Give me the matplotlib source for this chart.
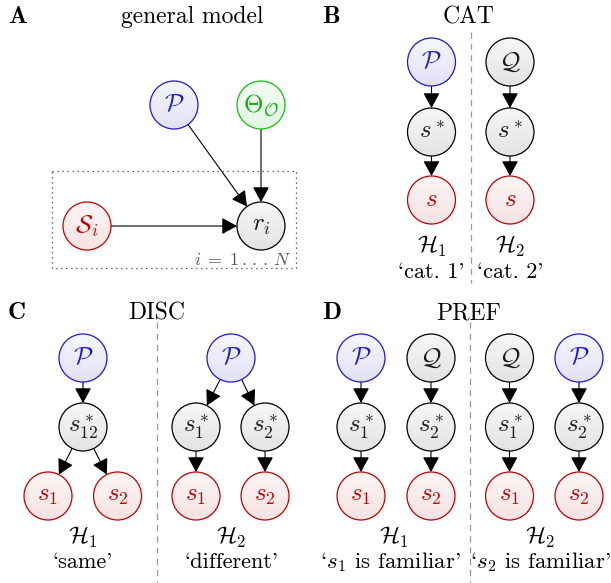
import matplotlib
matplotlib.use("Agg")
import matplotlib.pyplot as plt
from matplotlib.patches import Circle, FancyArrowPatch, Rectangle
from matplotlib.colors import to_rgb
import numpy as np

plt.rcParams['mathtext.fontset'] = 'cm'
plt.rcParams['font.family'] = 'cmr10'

# panel titles
panel_letters = ["A", "B", "C", "D"]
panel_titles = ["general model", "CAT", "DISC", "PREF"]

# node labels and kinds (kind picks the colour)
a_nodes = {"P": (r"$\mathcal{P}$", "blue"), "T": (r"$\Theta_\mathcal{O}$", "green"),
           "S": (r"$\mathcal{S}_i$", "red"), "r": (r"$r_i$", "gray")}
a_edges = [("P", "r"), ("T", "r"), ("S", "r")]
plate_label = r"$i\;=\;1\,.\,.\,.\,N$"

cat_columns = [[(r"$\mathcal{P}$", "blue"), (r"$s^*$", "gray"), (r"$s$", "red")],
               [(r"$\mathcal{Q}$", "gray"), (r"$s^*$", "gray"), (r"$s$", "red")]]
cat_hyp = [r"$\mathcal{H}_1$", r"$\mathcal{H}_2$"]
cat_desc = ["`cat. 1'", "`cat. 2'"]

pref_columns = [[(r"$\mathcal{P}$", "blue"), (r"$s^*_1$", "gray"), (r"$s_1$", "red")],
                [(r"$\mathcal{Q}$", "gray"), (r"$s^*_2$", "gray"), (r"$s_2$", "red")],
                [(r"$\mathcal{Q}$", "gray"), (r"$s^*_1$", "gray"), (r"$s_1$", "red")],
                [(r"$\mathcal{P}$", "blue"), (r"$s^*_2$", "gray"), (r"$s_2$", "red")]]
pref_hyp = [r"$\mathcal{H}_1$", r"$\mathcal{H}_2$"]
pref_desc = ["`$s_1$ is familiar'", "`$s_2$ is familiar'"]

disc_hyp = [r"$\mathcal{H}_1$", r"$\mathcal{H}_2$"]
disc_desc = ["`same'", "`different'"]

edge_col = {"blue": "#1c1cc8", "red": "#c40000", "green": "#10c010", "gray": "#000000"}
fill_top = {"blue": "#f6f6fd", "red": "#fdf6f6", "green": "#f6fdf6", "gray": "#f7f7f7"}
fill_bot = {"blue": "#e2e2f6", "red": "#f6e2e2", "green": "#e2f6e2", "gray": "#e3e3e3"}
text_col = {"blue": "#1c1cc8", "red": "#c40000", "green": "#10b010", "gray": "#1a1a1a"}

R = 24
FS = 16
NFS = 18

fig = plt.figure(figsize=(6.11, 5.83), dpi=100)
ax = fig.add_axes([0, 0, 1, 1])
ax.set_xlim(0, 611)
ax.set_ylim(583, 0)
ax.axis("off")


def node(x, y, label, kind):
    c = Circle((x, y), R, facecolor="none", edgecolor=edge_col[kind], lw=0.9, zorder=3)
    ax.add_patch(c)
    top, bot = np.array(to_rgb(fill_top[kind])), np.array(to_rgb(fill_bot[kind]))
    t = np.linspace(0, 1, 40)[:, None]
    grad = (top * (1 - t) + bot * t)[:, None, :]
    im = ax.imshow(grad, extent=(x - R, x + R, y + R, y - R), zorder=2,
                   interpolation="bilinear", aspect="auto")
    im.set_clip_path(c)
    ax.text(x, y, label, ha="center", va="center", fontsize=NFS, color=text_col[kind], zorder=4)
    return (x, y)


def arrow(p, q):
    d = np.array(q) - np.array(p)
    u = d / np.hypot(*d)
    a = np.array(p) + u * R
    b = np.array(q) - u * R
    ax.add_patch(FancyArrowPatch(a, b, arrowstyle="-|>,head_length=0.55,head_width=0.3",
                                 mutation_scale=17, lw=0.8, color="black",
                                 shrinkA=0, shrinkB=0, zorder=1))


def heading(x_letter, x_title, y, i):
    ax.text(x_letter, y, panel_letters[i], family="cmb10", fontsize=18, ha="left", va="center")
    ax.text(x_title, y, panel_titles[i], fontsize=FS + 1, ha="center", va="center")


def divider(x, y0, y1):
    ax.plot([x, x], [y0, y1], ls=(0, (5, 4)), color="#999999", lw=0.9)


# ---- A: general model
heading(8, 192, 17, 0)
pos_a = {"P": (174, 105), "T": (261, 105), "S": (87, 226), "r": (261, 226)}
for k, (lab, kind) in a_nodes.items():
    node(*pos_a[k], lab, kind)
for s, t in a_edges:
    arrow(pos_a[s], pos_a[t])
ax.add_patch(Rectangle((52, 171), 244, 97, fill=False, ls=(0, (1, 3)), ec="#444444", lw=0.9))
ax.text(291, 260, plate_label, ha="right", va="center", fontsize=13, color="#555555")

# ---- B: CAT
heading(322, 469, 17, 1)
divider(470.5, 32, 283)
rows_b = [62, 132, 200]
for cx, col, h, dsc in zip([431.5, 510], cat_columns, cat_hyp, cat_desc):
    pts = [node(cx, ry, lab, kind) for ry, (lab, kind) in zip(rows_b, col)]
    for p, q in zip(pts[:-1], pts[1:]):
        arrow(p, q)
    ax.text(cx, 246, h, ha="center", va="center", fontsize=17)
    ax.text(cx, 272, dsc, ha="center", va="center", fontsize=FS)

rows = [358, 427, 496]
# ---- C: DISC
heading(8, 157, 313, 2)
divider(157, 322, 583)
p = node(83, rows[0], r"$\mathcal{P}$", "blue")
m = node(83, rows[1], r"$s^*_{12}$", "gray")
l1 = node(48, rows[2], r"$s_1$", "red")
l2 = node(117.5, rows[2], r"$s_2$", "red")
arrow(p, m); arrow(m, l1); arrow(m, l2)
p = node(231, rows[0], r"$\mathcal{P}$", "blue")
m1 = node(196, rows[1], r"$s^*_1$", "gray")
m2 = node(265, rows[1], r"$s^*_2$", "gray")
l1 = node(196, rows[2], r"$s_1$", "red")
l2 = node(265, rows[2], r"$s_2$", "red")
arrow(p, m1); arrow(p, m2); arrow(m1, l1); arrow(m2, l2)
for cx, h, dsc in zip([83, 231], disc_hyp, disc_desc):
    ax.text(cx, 537, h, ha="center", va="center", fontsize=17)
    ax.text(cx, 562, dsc, ha="center", va="center", fontsize=FS)

# ---- D: PREF
heading(322, 469, 313, 3)
divider(470, 322, 583)
for cx, col in zip([361, 431, 509.5, 579], pref_columns):
    pts = [node(cx, ry, lab, kind) for ry, (lab, kind) in zip(rows, col)]
    for p, q in zip(pts[:-1], pts[1:]):
        arrow(p, q)
for hx, dx, h, dsc in zip([394, 540], [390, 540], pref_hyp, pref_desc):
    ax.text(hx, 537, h, ha="center", va="center", fontsize=17)
    ax.text(dx, 562, dsc, ha="center", va="center", fontsize=16.5)

fig.savefig("out.png", dpi=100)
